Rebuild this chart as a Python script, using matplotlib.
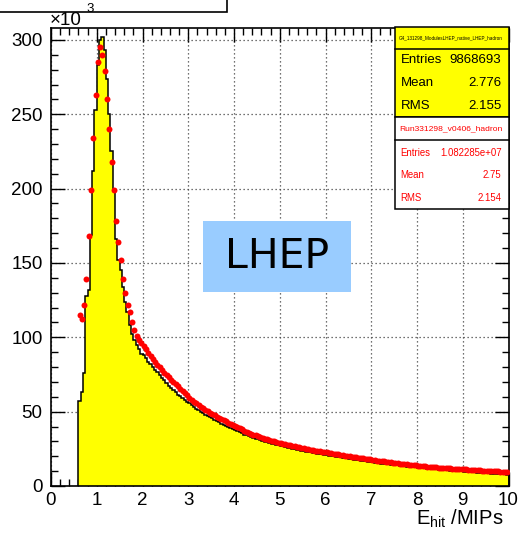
import numpy as np
import matplotlib
matplotlib.use("Agg")
import matplotlib.pyplot as plt
from matplotlib.patches import Rectangle
from matplotlib.ticker import MultipleLocator

plt.rcParams['font.family'] = ['Liberation Sans', 'DejaVu Sans']
plt.rcParams['mathtext.fontset'] = 'custom'
plt.rcParams['mathtext.rm'] = 'Liberation Sans'
plt.rcParams['mathtext.it'] = 'Liberation Sans:italic'

# ---------------- data (units of 10^3 entries), bins of 0.05 MIP from 0.6 to 10 ----------------
bin_lo = 0.6
bin_hi = 10.0
bin_width = 0.05

# Simulation (G4 LHEP) histogram, yellow filled
mc_values = [
    57, 63, 76, 128, 132, 169, 212, 253, 283, 300, 302, 293, 274, 250, 225, 199, 166, 152, 145, 134,
    124, 117, 108, 102, 98, 95, 92, 89,
    88, 86, 83.5, 82, 80, 78, 76.5, 74.5, 72.5, 71, 69, 67.5, 66, 64.5, 63, 61.5, 60.5, 59, 58, 56.8,
    55.5, 54.2, 53, 52, 51, 50, 49, 48, 47, 46.2, 45.5, 44.5, 43.5, 42.8, 42, 41.2, 40.5, 39.7, 39, 38.2,
    37.5, 36.8, 36.1, 35.4, 34.6, 34.0, 33.4, 32.8, 32.3, 31.8, 31.3, 30.8, 30.3, 29.8, 29.3, 28.9, 28.5, 28.1, 27.7, 27.3,
    27.0, 26.6, 26.2, 25.8, 25.5, 25.1, 24.8, 24.5, 24.1, 23.8, 23.5, 23.2, 22.9, 22.6, 22.3, 22.0, 21.8, 21.5, 21.3, 21.0,
    20.8, 20.5, 20.2, 20.0, 19.7, 19.5, 19.2, 19.0, 18.7, 18.5, 18.2, 18.0, 17.7, 17.5, 17.2, 17.0, 16.8, 16.5, 16.3, 16.1,
    15.9, 15.7, 15.5, 15.3, 15.1, 14.9, 14.7, 14.5, 14.3, 14.1, 14.0, 13.8, 13.6, 13.4, 13.3, 13.1, 12.9, 12.8, 12.6, 12.5,
    12.3, 12.2, 12.0, 11.9, 11.7, 11.6, 11.4, 11.3, 11.2, 11.0, 10.9, 10.8, 10.6, 10.5, 10.4, 10.3, 10.1, 10.0, 9.9, 9.8,
    9.7, 9.6, 9.5, 9.4, 9.2, 9.1, 9.0, 8.9, 8.8, 8.7, 8.6, 8.5, 8.4, 8.3, 8.2, 8.1, 8.0, 7.9, 7.8, 7.7,
]

# Run331298 data, red markers
data_values = [
    115, 112, 122, 139, 168, 199, 234, 263, 285, 295, 290, 279, 260, 240, 218, 199, 178, 164, 152, 139,
    130, 122, 117, 110, 105, 101, 98, 96,
    94, 92, 89.5, 87.5, 85.5, 83.5, 81.5, 80, 78, 76, 74.5, 73, 71.5, 70, 68.5, 67, 65.5, 64, 62.5, 61,
    59.5, 58, 56.5, 55.5, 54.3, 53.2, 52.2, 51.2, 50.2, 49.3, 48.5, 47.6, 46.7, 45.9, 45, 44.2, 43.4, 42.6, 41.8, 41,
    40.2, 39.4, 38.7, 38, 37.2, 36.5, 35.9, 35.3, 34.6, 34, 33.5, 32.9, 32.4, 31.9, 31.4, 30.9, 30.5, 30.1, 29.6, 29.2,
    28.8, 28.4, 28, 27.7, 27.3, 26.9, 26.6, 26.3, 25.9, 25.6, 25.3, 25, 24.7, 24.4, 24.1, 23.8, 23.5, 23.3, 23, 22.8,
    22.6, 22.3, 22.0, 21.8, 21.5, 21.2, 21.0, 20.7, 20.5, 20.2, 20.0, 19.7, 19.5, 19.3, 19.0, 18.8, 18.6, 18.3, 18.1, 17.9,
    17.5, 17.3, 17.1, 16.9, 16.7, 16.5, 16.3, 16.1, 15.9, 15.7, 15.5, 15.3, 15.1, 14.9, 14.7, 14.5, 14.3, 14.1, 13.9, 13.8,
    13.6, 13.5, 13.3, 13.2, 13.0, 12.9, 12.8, 12.6, 12.5, 12.4, 12.3, 12.1, 12.0, 11.9, 11.8, 11.7, 11.6, 11.5, 11.4, 11.3,
    11.2, 11.1, 11.0, 10.9, 10.8, 10.7, 10.6, 10.5, 10.4, 10.3, 10.2, 10.1, 10.0, 9.9, 9.9, 9.8, 9.7, 9.6, 9.6, 9.5,
]

x_ticks = [0, 1, 2, 3, 4, 5, 6, 7, 8, 9, 10]
y_ticks = [0, 50, 100, 150, 200, 250, 300]

mc_title = "G4_131298_ModulesLHEP_native_LHEP_hadron"
mc_stats = [("Entries", "9868693"), ("Mean", "2.776"), ("RMS", "2.155")]
data_title = "Run331298_v0406_hadron"
data_stats = [("Entries", "1.082285e+07"), ("Mean", "2.75"), ("RMS", "2.154")]

# ---------------- figure ----------------
W, H = 518, 534
fig = plt.figure(figsize=(W / 100, H / 100), dpi=100)

def fx(px):
    return px / W

def fy(py):
    return 1 - py / H

ax = fig.add_axes([fx(51), fy(486), fx(508.5) - fx(51), fy(28) - fy(486)])

n = len(mc_values)
edges = np.round(bin_lo + bin_width * np.arange(n + 1), 4)
centers = 0.5 * (edges[:-1] + edges[1:])

ax.stairs(mc_values, edges, baseline=0, fill=True, color='#ffff00', zorder=2)
ax.stairs(mc_values, edges, baseline=0, fill=False, color='black', lw=1.1, zorder=3)
ax.plot(centers[:len(data_values)], data_values, 'o', color='#ff0000', ms=4.3, mew=0, zorder=4)

ax.set_xlim(0, 10)
ax.set_ylim(0, 308)
ax.set_xticks(x_ticks)
ax.set_yticks(y_ticks)
ax.xaxis.set_minor_locator(MultipleLocator(0.2))
ax.yaxis.set_minor_locator(MultipleLocator(10))
ax.set_axisbelow(True)
ax.grid(True, which='major', color='#444444', linestyle=(0, (1, 2.2)), lw=0.9)

ax.tick_params(which='both', direction='in', top=True, right=True, color='black', width=1)
ax.tick_params(which='major', length=10, labelsize=13.5)
ax.tick_params(which='minor', length=5)
ax.tick_params(axis='y', pad=6)
ax.tick_params(axis='x', pad=4)
for s in ax.spines.values():
    s.set_linewidth(1.2)

# title box (mostly cut off at top)
fig.add_artist(Rectangle((fx(-3), fy(12)), fx(230), fy(-5) - fy(12), transform=fig.transFigure,
                         facecolor='white', edgecolor='black', lw=1.2, zorder=5))

# exponent label
fig.text(fx(50), fy(24.5), "\u00d710", fontsize=13.5, ha='left', va='baseline', zorder=8)
fig.text(fx(86), fy(11.5), "3", fontsize=9.5, ha='left', va='baseline', zorder=8)

# x axis title
fig.text(fx(503), fy(525), r"E$_{\mathrm{hit}}$ /MIPs", fontsize=14.5, ha='right', va='baseline')

# stats box for simulation
bx0, bx1 = 395, 508.5
fig.add_artist(Rectangle((fx(bx0), fy(117)), fx(bx1) - fx(bx0), fy(27.5) - fy(117), transform=fig.transFigure,
                         facecolor='#ffff00', edgecolor='black', lw=1.1, zorder=5))
fig.add_artist(plt.Line2D([fx(bx0), fx(bx1)], [fy(49), fy(49)], transform=fig.transFigure,
                          color='black', lw=1.1, zorder=6))
fig.text(fx(451), fy(38), mc_title, fontsize=3.3, ha='center', va='center', zorder=7)
for (lab, val), yy in zip(mc_stats, [60, 83, 106]):
    fig.text(fx(400.5), fy(yy), lab, fontsize=9.5, ha='left', va='center', zorder=7)
    fig.text(fx(501.5), fy(yy), val, fontsize=9.5, ha='right', va='center', zorder=7)

# stats box for data
fig.add_artist(Rectangle((fx(bx0), fy(209)), fx(bx1) - fx(bx0), fy(117) - fy(209), transform=fig.transFigure,
                         facecolor='white', edgecolor='black', lw=1.1, zorder=5))
fig.add_artist(plt.Line2D([fx(bx0), fx(bx1)], [fy(140), fy(140)], transform=fig.transFigure,
                          color='black', lw=1.1, zorder=6))
fig.text(fx(451), fy(128.5), data_title, fontsize=6.1, color='#ff0000', ha='center', va='center', zorder=7)
for (lab, val), yy in zip(data_stats, [153, 175.5, 198]):
    fig.text(fx(400.5), fy(yy), lab, fontsize=6.9, color='#ff0000', ha='left', va='center', zorder=7)
    fig.text(fx(501.5), fy(yy), val, fontsize=6.9, color='#ff0000', ha='right', va='center', zorder=7)

# LHEP label box
fig.add_artist(Rectangle((fx(203), fy(292)), fx(351) - fx(203), fy(221) - fy(292), transform=fig.transFigure,
                         facecolor='#99ccff', edgecolor='none', zorder=5))
fig.text(fx(277), fy(257), "LHEP", fontsize=29.5, family='DejaVu Sans', ha='center', va='center', zorder=7)

fig.savefig("out.png", dpi=100)
